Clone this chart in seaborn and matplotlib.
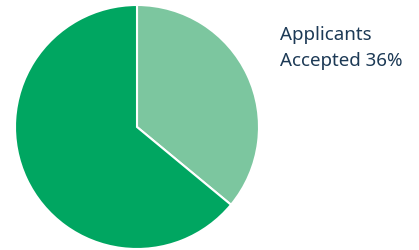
import matplotlib
matplotlib.use("Agg")
import matplotlib.pyplot as plt
import seaborn as sns

labels = ["Accepted", "Not accepted"]
shares = [36, 64]
colors = ["#7cc69f", "#00a661"]

sns.set_theme(style="white")
plt.rcParams['font.family'] = ['Noto Sans', 'DejaVu Sans']

fig = plt.figure(figsize=(4.19, 2.5), dpi=100)
ax = fig.add_axes([15 / 419, 1 / 250, 244 / 419, 244 / 250])
ax.pie(shares, colors=colors, startangle=90, counterclock=False,
       wedgeprops=dict(edgecolor="white", linewidth=1.5))
ax.set_xlim(-1, 1)
ax.set_ylim(-1, 1)
ax.set_aspect("equal")

fig.text(280 / 419, 1 - 26 / 250, f"Applicants\n{labels[0]} {shares[0]}%",
         ha="left", va="top", fontsize=13.5, color="#1d3a56", linespacing=1.6)

plt.savefig("out.png", dpi=100)
